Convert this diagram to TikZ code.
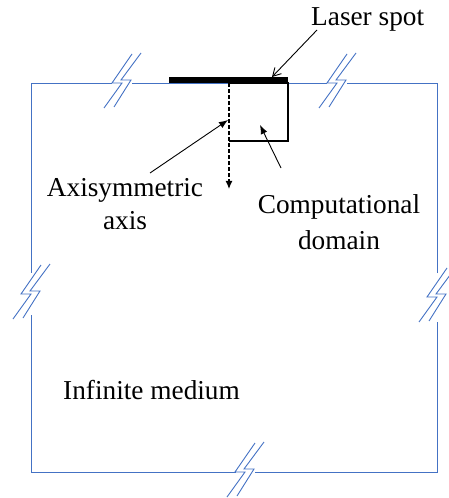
\documentclass[tikz,border=0pt]{standalone}
\usepackage{fontspec}
\setmainfont{Liberation Serif}
\usetikzlibrary{arrows.meta}
\definecolor{edgeblue}{RGB}{68,114,196}
\tikzset{
  edge/.style={draw=edgeblue, line width=0.9bp},
  lbl/.style={inner sep=0pt, font=\fontsize{27.3bp}{32bp}\selectfont},
  pointer/.style={draw=black, line width=0.9bp},
  brk/.pic={
    \draw[edge] (10,-29) -- (-10,0) -- (0,0) -- (-18,25);
    \draw[edge] (19,-30) -- (-1,-3) -- (9,-3) -- (-8,24);
  }
}
\begin{document}
\begin{tikzpicture}[x=1bp,y=-1bp]
\useasboundingbox (0,0) rectangle (449,498);
% outer boundary of the infinite medium, with break marks
\draw[edge] (112,83) -- (31,83) -- (31,273);
\draw[edge] (31,315) -- (31,472) -- (236,472);
\draw[edge] (255,472) -- (437,472) -- (437,322);
\draw[edge] (437,273) -- (437,83) -- (347,83);
\draw[edge] (327,83) -- (132,83);
\pic at (122,83) {brk};
\pic at (337,83) {brk};
\pic at (31,294) {brk};
\pic at (437,297) {brk};
\pic at (245,472) {brk};
% computational domain
\coordinate (ctl) at (229,83);
\coordinate (ctr) at (288,83);
\coordinate (cbr) at (288,141);
\coordinate (cbl) at (229,141);
\draw[black, line width=1.3bp] (ctl) -- (ctr) -- (cbr) -- (cbl);
% axisymmetric axis
\coordinate (axend) at (229,189);
\draw[black, line width=1.3bp, dash pattern=on 4bp off 2bp, -{Latex[length=8bp,width=7bp]}] (ctl) -- (axend);
% laser spot
\fill[black] (169,77) rectangle (288,83);
% labels
\node[lbl, anchor=base west] (laser) at (311,26) {Laser spot};
\node[lbl, anchor=base] (axis1) at (125,197) {Axisymmetric};
\node[lbl, anchor=base] (axis2) at (125,229) {axis};
\node[lbl, anchor=base] (comp1) at (339,213) {Computational};
\node[lbl, anchor=base] (comp2) at (339,249) {domain};
\node[lbl, anchor=base west] (medium) at (63,399) {Infinite medium};
% pointers
\coordinate (lsFrom) at (317,30);
\coordinate (lsTo) at (272,77);
\draw[pointer, -{Straight Barb[length=8bp,width=9bp]}] (lsFrom) -- (lsTo);
\coordinate (axFrom) at (150,173);
\coordinate (axTo) at (228,120);
\draw[pointer, -{Latex[length=9bp,width=7bp]}] (axFrom) -- (axTo);
\coordinate (cdFrom) at (281,168);
\coordinate (cdTo) at (260,125);
\draw[pointer, -{Latex[length=9bp,width=7bp]}] (cdFrom) -- (cdTo);
\end{tikzpicture}
\end{document}
